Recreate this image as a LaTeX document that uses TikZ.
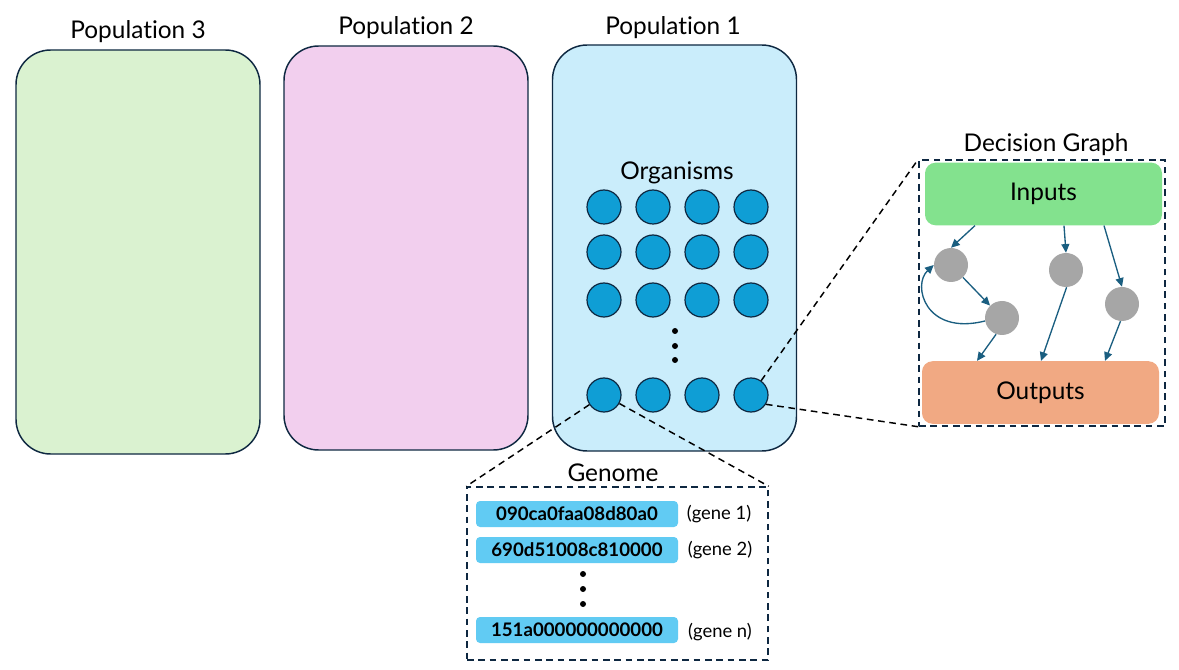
\documentclass[tikz,border=0pt]{standalone}
\usepackage{fontspec}
\setmainfont{Lato}[Ligatures=NoCommon]
\usetikzlibrary{arrows.meta,calc}
\definecolor{navy}{HTML}{0E2841}
\definecolor{popgreen}{HTML}{DAF2D0}
\definecolor{poppink}{HTML}{F2CFEE}
\definecolor{popblue}{HTML}{CAEDFB}
\definecolor{orgblue}{HTML}{0F9ED5}
\definecolor{genefill}{HTML}{61CBF3}
\definecolor{infill}{HTML}{83E28E}
\definecolor{outfill}{HTML}{F1A983}
\definecolor{nodegray}{HTML}{A6A6A6}
\definecolor{arrowc}{HTML}{1A5E80}
\tikzset{
  popbox/.style={draw=navy, line width=1.1pt, rounded corners=26pt, minimum width=183pt, minimum height=303pt, inner sep=0pt},
  poplabel/.style={font=\fontsize{18.3}{21}\selectfont, inner sep=0pt},
  org/.style={circle, draw=navy, line width=0.9pt, fill=orgblue, minimum size=25.5pt, inner sep=0pt},
  dotc/.style={circle, fill=black, minimum size=4.5pt, inner sep=0pt},
  dashbox/.style={draw=navy, line width=1.1pt, dash pattern=on 5pt off 3.5pt, inner sep=0pt},
  zoomline/.style={black, line width=1.1pt, dash pattern=on 5pt off 3.5pt},
  genebar/.style={fill=genefill, rounded corners=3pt, minimum width=151.5pt, minimum height=19.5pt, inner sep=0pt, font=\fontsize{14}{16}\selectfont\bfseries},
  genelab/.style={font=\fontsize{13.8}{16}\selectfont, inner sep=0pt},
  ioblock/.style={rounded corners=8pt, minimum width=177.75pt, minimum height=47pt, inner sep=0pt, font=\fontsize{18.3}{21}\selectfont},
  gnode/.style={circle, fill=nodegray, minimum size=25.5pt, inner sep=0pt},
  flow/.style={arrowc, line width=1pt, -{Triangle[length=6.5pt, width=6pt]}}
}
\begin{document}
\begin{tikzpicture}[x=0.75pt, y=-0.75pt]
\useasboundingbox (0,0) rectangle (1179,670);
% populations
\node[popbox, fill=popgreen] (pop3) at (138,252) {};
\node[popbox, fill=poppink] (pop2) at (406,248) {};
\node[popbox, fill=popblue, minimum height=304.5pt] (pop1) at (674.5,248) {};
\node[poplabel] (l3) at (138,32) {Population 3};
\node[poplabel] (l2) at (406,28) {Population 2};
\node[poplabel] (l1) at (673,28) {Population 1};
\node[poplabel] (orgl) at (677,173) {Organisms};
% organisms
\foreach \c/\x in {1/604,2/653,3/702,4/751}{
  \foreach \r/\y in {1/207,2/252,3/300,4/395}{
    \node[org] (o\r\c) at (\x,\y) {};
  }
}
\node[dotc] (od1) at (675,331) {};
\node[dotc] (od2) at (675,346) {};
\node[dotc] (od3) at (675,360) {};
% genome
\node[dashbox, minimum width=225.75pt, minimum height=129.75pt] (gen) at (617.5,573.5) {};
\node[poplabel] (genl) at (613,473) {Genome};
\node[genebar] (g1bar) at (577,514) {090ca0faa08d80a0};
\node[genebar] (g2bar) at (577,550) {690d51008c810000};
\node[genebar] (gnbar) at (577,630) {151a000000000000};
\node[genelab] (g1l) at (719,514) {(gene 1)};
\node[genelab] (g2l) at (720,550) {(gene 2)};
\node[genelab] (gnl) at (720,632) {(gene n)};
\node[dotc] (gd1) at (583,574) {};
\node[dotc] (gd2) at (583,589) {};
\node[dotc] (gd3) at (583,604) {};
\draw[zoomline] (o41) -- (gen.north west);
\draw[zoomline] (o41) -- (gen.north east);
% decision graph
\node[dashbox, minimum width=184.5pt, minimum height=199.5pt] (dg) at (1042,293) {};
\node[poplabel] (dgl) at (1046,145) {Decision Graph};
\draw[zoomline] (o44) -- (dg.north west);
\draw[zoomline] (o44.-32) -- (dg.south west);
\node[ioblock, fill=infill] (inp) at (1043.5,194) {Inputs};
\node[ioblock, fill=outfill] (outp) at (1040.5,392.5) {Outputs};
\node[gnode] (n1) at (951,265) {};
\node[gnode] (n2) at (1002,318) {};
\node[gnode] (n3) at (1066,270) {};
\node[gnode] (n4) at (1122,304) {};
\draw[flow] (inp.south -| 975,0) -- (n1.north);
\draw[flow] (n1) -- (n2);
\draw[flow] (n2.190) .. controls (925,336) and (912,285) .. (n1.west);
\draw[flow] (n2.250) -- (outp.north -| 977,0);
\draw[flow] (inp.south -| 1064,0) -- (n3.north);
\draw[flow] (n3.272) -- (outp.north -| 1041,0);
\draw[flow] (inp.south -| 1104,0) -- (n4.north);
\draw[flow] (n4.265) -- (outp.north -| 1105,0);
\end{tikzpicture}
\end{document}
